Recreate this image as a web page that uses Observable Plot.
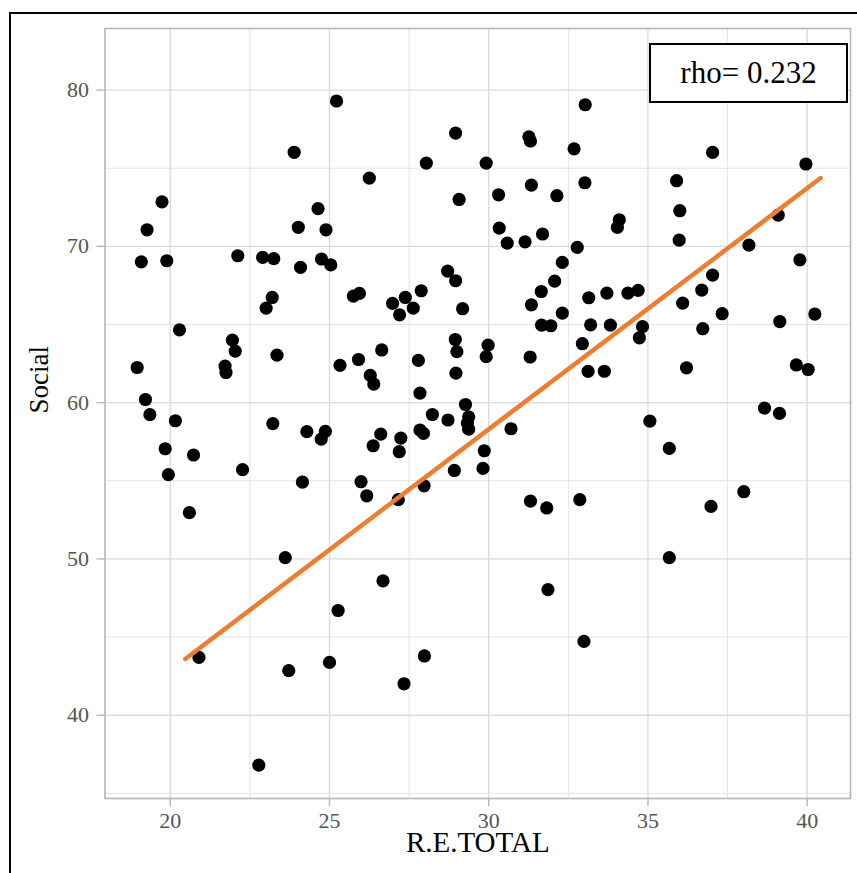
<!DOCTYPE html>
<html>
<head>
<meta charset="utf-8">
<script src="https://cdn.jsdelivr.net/npm/d3@7"></script>
<script src="https://cdn.jsdelivr.net/npm/@observablehq/plot@0.6"></script>
<style>
  body { margin: 0; background: #fff; }
  #wrap { position: relative; width: 857px; height: 873px; overflow: hidden; background: #fff; }
  #outer { position: absolute; left: 9px; top: 12px; width: 900px; height: 900px; border: 2px solid #000; }
  #chart { position: absolute; left: 0; top: 0; }
  #rho { position: absolute; left: 649px; top: 43px; width: 195px; height: 56px; border: 2.5px solid #000;
         background: #fff; font-family: "Liberation Serif", serif; font-size: 31px; color: #000;
         display: flex; align-items: center; justify-content: center; }
</style>
</head>
<body>
<div id="wrap">
  <div id="outer"></div>
  <div id="chart"></div>
  <div id="rho">rho= 0.232</div>
</div>
<script>
// R.E.TOTAL values
const reTotal = [
  25.22, 23.89, 19.74, 24.64, 19.27, 24.02, 24.89, 19.09, 19.89, 22.12,
  22.90, 23.25, 24.09, 24.75, 25.04, 23.20, 23.01, 20.29, 21.95, 22.04,
  23.35, 18.96, 21.72, 21.75, 25.33, 19.22, 19.36, 20.16, 23.22, 24.29,
  24.87, 24.74, 19.84, 20.73, 19.94, 22.27, 24.15, 20.60, 23.61, 25.27,
  20.90, 23.72, 25.00, 22.78, 25.75, 25.94, 25.91, 25.99, 26.17, 26.25,
  26.39, 26.28, 26.64, 26.61, 26.37, 27.24, 27.19, 26.68, 27.16, 27.97,
  27.98, 27.34, 26.98, 27.38, 27.20, 27.63, 27.88, 27.79, 27.84, 27.84,
  27.95, 28.04, 28.23, 28.71, 28.96, 28.72, 28.96, 29.07, 29.18, 28.95,
  29.00, 28.97, 29.27, 29.37, 29.33, 29.37, 28.92, 29.86, 29.82, 29.92,
  29.98, 29.92, 30.31, 30.33, 30.58, 30.70, 31.14, 31.26, 31.31, 31.34,
  31.34, 31.30, 31.31, 31.65, 31.69, 31.66, 31.95, 31.82, 31.86, 32.07,
  32.14, 32.31, 32.31, 32.68, 32.78, 32.86, 32.94, 32.99, 33.03, 33.02,
  33.14, 33.12, 33.20, 33.63, 33.71, 33.82, 34.10, 34.04, 34.37, 34.69,
  34.83, 34.73, 35.06, 35.67, 35.67, 35.90, 36.00, 35.98, 36.09, 36.21,
  36.69, 36.72, 36.98, 37.03, 37.03, 37.33, 38.01, 38.17, 38.66, 39.09,
  39.13, 39.14, 39.66, 39.77, 39.96, 40.03, 40.24
];
// Social values
const social = [
  79.30, 76.02, 72.85, 72.41, 71.06, 71.22, 71.06, 69.01, 69.08, 69.40,
  69.29, 69.21, 68.65, 69.19, 68.81, 66.73, 66.05, 64.66, 64.00, 63.30,
  63.04, 62.25, 62.34, 61.93, 62.38, 60.20, 59.23, 58.84, 58.66, 58.14,
  58.16, 57.67, 57.05, 56.65, 55.39, 55.71, 54.92, 52.96, 50.08, 46.70,
  43.70, 42.85, 43.38, 36.81, 66.82, 66.99, 62.76, 54.94, 54.04, 74.37,
  61.19, 61.74, 63.37, 57.99, 57.24, 57.73, 56.86, 48.60, 53.79, 54.68,
  43.79, 42.01, 66.35, 66.73, 65.62, 66.05, 67.16, 62.70, 60.61, 58.25,
  58.03, 75.33, 59.24, 68.42, 67.80, 58.89, 77.25, 73.00, 66.01, 64.04,
  63.26, 61.89, 59.88, 59.09, 58.69, 58.30, 55.66, 56.92, 55.79, 75.33,
  63.68, 62.94, 73.30, 71.17, 70.21, 58.33, 70.29, 77.01, 76.74, 73.92,
  66.26, 62.92, 53.70, 67.11, 70.79, 64.96, 64.92, 53.26, 48.03, 67.77,
  73.24, 68.97, 65.73, 76.24, 69.93, 53.79, 63.77, 44.72, 79.06, 74.07,
  66.71, 62.00, 64.98, 62.01, 67.01, 64.96, 71.70, 71.21, 67.01, 67.18,
  64.86, 64.15, 58.82, 57.07, 50.08, 74.20, 72.28, 70.40, 66.37, 62.23,
  67.20, 64.73, 53.36, 76.01, 68.16, 65.69, 54.30, 70.08, 59.65, 72.00,
  59.31, 65.19, 62.41, 69.14, 75.27, 62.12, 65.67
];
// fitted line end points
const fitX = [20.47, 40.42];
const fitY = [43.60, 74.37];

// tick values
const xMajor = [20, 25, 30, 35, 40];
const xMinor = [22.5, 27.5, 32.5, 37.5];
const yMajor = [40, 50, 60, 70, 80];
const yMinor = [35, 45, 55, 65, 75];

const xLabel = "R.E.TOTAL";
const yLabel = "Social";

const points = reTotal.map((x, i) => ({x, y: social[i]}));
const fit = fitX.map((x, i) => ({x, y: fitY[i]}));

const serif = "'Liberation Serif', 'DejaVu Serif', serif";

const chart = Plot.plot({
  width: 857,
  height: 873,
  marginLeft: 104.5,
  marginRight: 7,
  marginTop: 28,
  marginBottom: 75,
  style: {fontFamily: serif, fontSize: "22px", background: "transparent"},
  x: {domain: [17.95, 41.36]},
  y: {domain: [34.67, 83.94]},
  marks: [
    Plot.gridX(xMinor, {stroke: "#e3e3e3", strokeOpacity: 1, strokeWidth: 1}),
    Plot.gridY(yMinor, {stroke: "#e3e3e3", strokeOpacity: 1, strokeWidth: 1}),
    Plot.gridX(xMajor, {stroke: "#dcdcdc", strokeOpacity: 1, strokeWidth: 1.4}),
    Plot.gridY(yMajor, {stroke: "#dcdcdc", strokeOpacity: 1, strokeWidth: 1.4}),
    Plot.frame({stroke: "#b5b5b5", strokeWidth: 1.6}),
    Plot.axisX(xMajor, {tickSize: 8, text: null, stroke: "#b5b5b5", strokeWidth: 1.4, label: null}),
    Plot.axisY(yMajor, {tickSize: 8, text: null, stroke: "#b5b5b5", strokeWidth: 1.4, label: null}),
    Plot.axisX(xMajor, {tickSize: 0, tickPadding: 14, color: "#555", label: null, fontSize: 22, fontFamily: serif}),
    Plot.axisY(yMajor, {tickSize: 0, tickPadding: 16, color: "#555", label: null, fontSize: 22, fontFamily: serif}),
    Plot.dot(points, {x: "x", y: "y", r: 6.6, fill: "#000", stroke: null}),
    Plot.line(fit, {x: "x", y: "y", stroke: "#ED7D31", strokeWidth: 4.5}),
    Plot.text([xLabel], {frameAnchor: "bottom", dy: 53, fontSize: 29, fill: "#000", fontFamily: serif}),
    Plot.text([yLabel], {frameAnchor: "left", dx: -66, rotate: -90, fontSize: 27, fill: "#000", fontFamily: serif})
  ]
});
document.getElementById("chart").appendChild(chart);
</script>
</body>
</html>
